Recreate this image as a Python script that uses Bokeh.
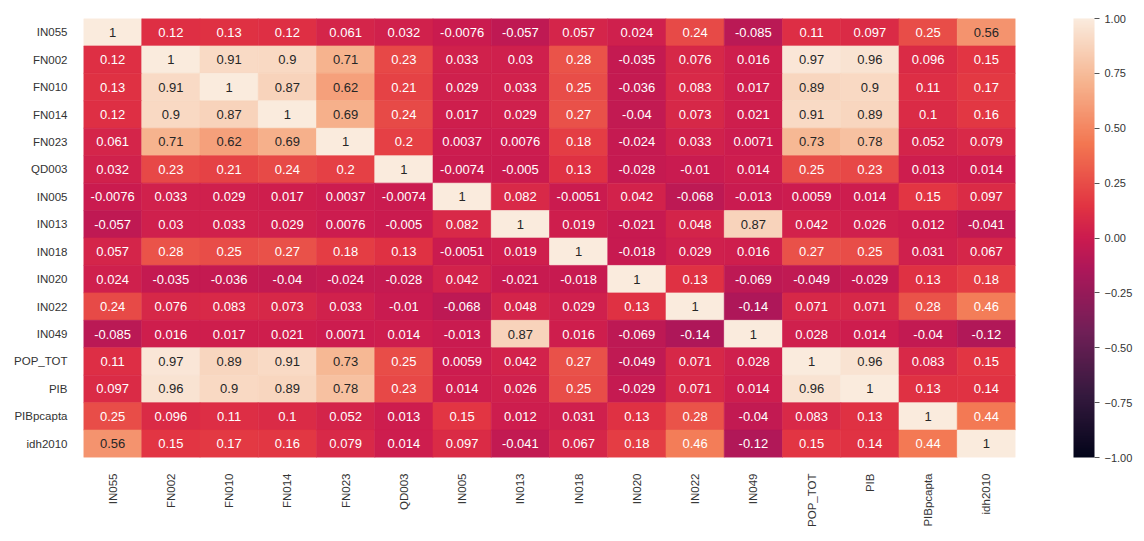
import numpy as np
from bokeh.plotting import figure
from bokeh.models import ColumnDataSource, LinearColorMapper, ColorBar, FixedTicker
from bokeh.core.properties import value
from bokeh.embed import file_html
from bokeh.resources import INLINE

labels = ["IN055", "FN002", "FN010", "FN014", "FN023", "QD003", "IN005", "IN013",
          "IN018", "IN020", "IN022", "IN049", "POP_TOT", "PIB", "PIBpcapta", "idh2010"]

r_IN055 = [1, 0.12, 0.13, 0.12, 0.061, 0.032, -0.0076, -0.057, 0.057, 0.024, 0.24, -0.085, 0.11, 0.097, 0.25, 0.56]
r_FN002 = [0.12, 1, 0.91, 0.9, 0.71, 0.23, 0.033, 0.03, 0.28, -0.035, 0.076, 0.016, 0.97, 0.96, 0.096, 0.15]
r_FN010 = [0.13, 0.91, 1, 0.87, 0.62, 0.21, 0.029, 0.033, 0.25, -0.036, 0.083, 0.017, 0.89, 0.9, 0.11, 0.17]
r_FN014 = [0.12, 0.9, 0.87, 1, 0.69, 0.24, 0.017, 0.029, 0.27, -0.04, 0.073, 0.021, 0.91, 0.89, 0.1, 0.16]
r_FN023 = [0.061, 0.71, 0.62, 0.69, 1, 0.2, 0.0037, 0.0076, 0.18, -0.024, 0.033, 0.0071, 0.73, 0.78, 0.052, 0.079]
r_QD003 = [0.032, 0.23, 0.21, 0.24, 0.2, 1, -0.0074, -0.005, 0.13, -0.028, -0.01, 0.014, 0.25, 0.23, 0.013, 0.014]
r_IN005 = [-0.0076, 0.033, 0.029, 0.017, 0.0037, -0.0074, 1, 0.082, -0.0051, 0.042, -0.068, -0.013, 0.0059, 0.014, 0.15, 0.097]
r_IN013 = [-0.057, 0.03, 0.033, 0.029, 0.0076, -0.005, 0.082, 1, 0.019, -0.021, 0.048, 0.87, 0.042, 0.026, 0.012, -0.041]
r_IN018 = [0.057, 0.28, 0.25, 0.27, 0.18, 0.13, -0.0051, 0.019, 1, -0.018, 0.029, 0.016, 0.27, 0.25, 0.031, 0.067]
r_IN020 = [0.024, -0.035, -0.036, -0.04, -0.024, -0.028, 0.042, -0.021, -0.018, 1, 0.13, -0.069, -0.049, -0.029, 0.13, 0.18]
r_IN022 = [0.24, 0.076, 0.083, 0.073, 0.033, -0.01, -0.068, 0.048, 0.029, 0.13, 1, -0.14, 0.071, 0.071, 0.28, 0.46]
r_IN049 = [-0.085, 0.016, 0.017, 0.021, 0.0071, 0.014, -0.013, 0.87, 0.016, -0.069, -0.14, 1, 0.028, 0.014, -0.04, -0.12]
r_POP_TOT = [0.11, 0.97, 0.89, 0.91, 0.73, 0.25, 0.0059, 0.042, 0.27, -0.049, 0.071, 0.028, 1, 0.96, 0.083, 0.15]
r_PIB = [0.097, 0.96, 0.9, 0.89, 0.78, 0.23, 0.014, 0.026, 0.25, -0.029, 0.071, 0.014, 0.96, 1, 0.13, 0.14]
r_PIBpcapta = [0.25, 0.096, 0.11, 0.1, 0.052, 0.013, 0.15, 0.012, 0.031, 0.13, 0.28, -0.04, 0.083, 0.13, 1, 0.44]
r_idh2010 = [0.56, 0.15, 0.17, 0.16, 0.079, 0.014, 0.097, -0.041, 0.067, 0.18, 0.46, -0.12, 0.15, 0.14, 0.44, 1]

rows = [r_IN055, r_FN002, r_FN010, r_FN014, r_FN023, r_QD003, r_IN005, r_IN013,
        r_IN018, r_IN020, r_IN022, r_IN049, r_POP_TOT, r_PIB, r_PIBpcapta, r_idh2010]

cbar_ticks = [-1.0, -0.75, -0.5, -0.25, 0.0, 0.25, 0.5, 0.75, 1.0]

# approximate "rocket" colormap anchors
anchor_pos = [0.0, 1/7, 2/7, 3/7, 0.5, 4/7, 5/7, 6/7, 1.0]
anchor_hex = ["#03051a", "#35193e", "#701f57", "#ad1759", "#cb1b4f", "#e13342", "#f37651", "#f6b48f", "#faebdd"]
anchor_rgb = np.array([[int(h[i:i+2], 16) for i in (1, 3, 5)] for h in anchor_hex], dtype=float)
t = np.linspace(0, 1, 256)
pal_rgb = np.stack([np.interp(t, anchor_pos, anchor_rgb[:, k]) for k in range(3)], axis=1)
palette = ["#%02x%02x%02x" % tuple(int(round(c)) for c in rgb) for rgb in pal_rgb]

def lum(rgb):
    c = rgb / 255.0
    c = np.where(c <= 0.03928, c / 12.92, ((c + 0.055) / 1.055) ** 2.4)
    return 0.2126 * c[0] + 0.7152 * c[1] + 0.0722 * c[2]

def fmt(v):
    return "%.2g" % v

xs, ys, vals, txt, tcol = [], [], [], [], []
for i, rl in enumerate(labels):
    for j, cl in enumerate(labels):
        v = rows[i][j]
        xs.append(cl); ys.append(rl); vals.append(v)
        txt.append(fmt(v))
        idx = int(round((v + 1) / 2 * 255))
        tcol.append("#262626" if lum(pal_rgb[idx]) > 0.408 else "#ffffff")

src = ColumnDataSource(dict(x=xs, y=ys, v=vals, t=txt, tc=tcol))
mapper = LinearColorMapper(palette=palette, low=-1, high=1)

p = figure(x_range=labels, y_range=list(reversed(labels)),
           frame_width=932, frame_height=439,
           min_border_left=83, min_border_top=18, min_border_bottom=80, min_border_right=125,
           output_backend="svg", toolbar_location=None)
p.rect(x="x", y="y", width=1, height=1, source=src,
       fill_color={"field": "v", "transform": mapper},
       line_color={"field": "v", "transform": mapper}, line_width=0.6)
p.text(x="x", y="y", text="t", source=src, text_align="center", text_baseline="middle",
       text_color="tc", text_font=value("Liberation Sans"), text_font_size="13px")

p.outline_line_color = None
p.grid.grid_line_color = None
for ax in (p.xaxis[0], p.yaxis[0]):
    ax.axis_line_color = None
    ax.major_tick_line_color = None
    ax.minor_tick_line_color = None
    ax.major_label_text_font = "Liberation Sans"
    ax.major_label_text_font_size = "11.5px"
    ax.major_label_text_color = "#333333"
p.xaxis.major_label_orientation = np.pi / 2
p.xaxis.major_label_standoff = 10
p.yaxis.major_label_standoff = 10

overrides = {}
for tv in cbar_ticks:
    s = "%.2f" % tv
    overrides[tv] = s.replace("-", "\u2212")

cb = ColorBar(color_mapper=mapper, width=21, height=439, padding=0, margin=0,
              location=(58, 0),
              ticker=FixedTicker(ticks=cbar_ticks), major_label_overrides=overrides,
              major_tick_in=0, major_tick_out=5, major_tick_line_color="#555555",
              major_label_text_font="Liberation Sans", major_label_text_font_size="11px",
              major_label_text_color="#333333", background_fill_alpha=0,
              bar_line_color=None, border_line_color=None, label_standoff=5)
p.add_layout(cb, "right")

open("out.html", "w").write(file_html(p, INLINE))
